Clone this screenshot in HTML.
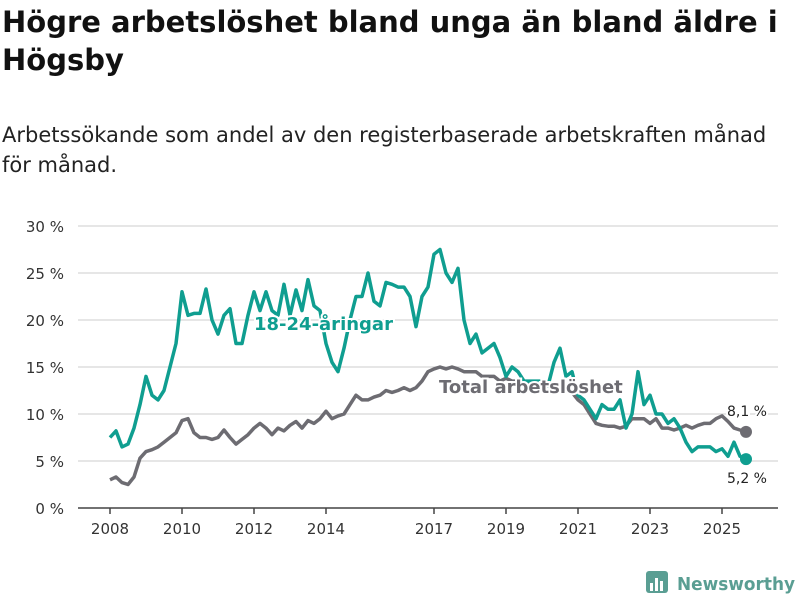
<!DOCTYPE html>
<html><head><meta charset="utf-8"><style>
body{margin:0;width:800px;height:600px;background:#fff;font-family:"DejaVu Sans","Liberation Sans",sans-serif;color:#111;overflow:hidden;position:relative}
h1{position:absolute;left:2px;top:3px;margin:0;font-size:29px;line-height:38px;font-weight:bold;width:798px}
.sub{position:absolute;left:2px;top:120px;font-size:21px;line-height:30px;color:#222;width:796px}
svg{position:absolute;left:0;top:0}
</style></head><body>
<h1>Högre arbetslöshet bland unga än bland äldre i Högsby</h1>
<div class="sub">Arbetssökande som andel av den registerbaserade arbetskraften månad för månad.</div>
<svg id="c" width="800" height="600"></svg>
<script>
const startYear=2008, step=1/6;
const youth=[7.5,8.2,6.5,6.8,8.5,11, 14,12,11.5,12.5,15,17.5, 23,20.5,20.7,20.7,23.3,20, 18.5,20.5,21.2,17.5,17.5,20.5, 23,21,23,21,20.5,23.8, 20.5,23.2,21,24.3,21.5,21, 17.5,15.5,14.5,17,20,22.5, 22.5,25,22,21.5,24,23.8, 23.5,23.5,22.5,19.3,22.5,23.5, 27,27.5,25,24,25.5,20, 17.5,18.5,16.5,17,17.5,16, 14,15,14.5,13.5,13.5,13.5, 13.5,13,15.5,17,14,14.5, 12,11.5,10.5,9.5,11,10.5, 10.5,11.5,8.5,10,14.5,11, 12,10,10,9,9.5,8.5, 7,6,6.5,6.5,6.5,6, 6.3,5.5,7,5.5,5.2];
const total=[3,3.3,2.7,2.5,3.3,5.3, 6,6.2,6.5,7,7.5,8, 9.3,9.5,8,7.5,7.5,7.3, 7.5,8.3,7.5,6.8,7.3,7.8, 8.5,9,8.5,7.8,8.5,8.2, 8.8,9.2,8.5,9.3,9,9.5, 10.3,9.5,9.8,10,11,12, 11.5,11.5,11.8,12,12.5,12.3, 12.5,12.8,12.5,12.8,13.5,14.5, 14.8,15,14.8,15,14.8,14.5, 14.5,14.5,14,14,14,13.5, 13.8,13.5,13.5,13.5,13,13, 13,13,12.8,12.5,12.5,12.3, 11.5,11,10,9,8.8,8.7, 8.7,8.5,8.7,9.5,9.5,9.5, 9,9.5,8.5,8.5,8.3,8.5, 8.8,8.5,8.8,9,9,9.5, 9.8,9.2,8.5,8.3,8.1];
const yTicks=[0,5,10,15,20,25,30];
const xTicks=[2008,2010,2012,2014,2017,2019,2021,2023,2025];
const X=t=>110+(t-2008)*36, Y=v=>508-v*9.4;
const ns="http://www.w3.org/2000/svg", svg=document.getElementById('c');
function mk(tag,attrs,parent){const e=document.createElementNS(ns,tag);for(const k in attrs)e.setAttribute(k,attrs[k]);(parent||svg).appendChild(e);return e;}
yTicks.forEach(v=>{
 if(v>0){const l=mk('line',{x1:78,x2:778,y1:Y(v),y2:Y(v),stroke:'#ddd','stroke-width':1.5});
 
 }
 const t=mk('text',{x:64,y:Y(v)+6,'text-anchor':'end','font-size':15,fill:'#333'});t.textContent=v+' %';
 
 
});
const ax=mk('line',{x1:78,x2:778,y1:508,y2:508,stroke:'#444','stroke-width':1.5});


xTicks.forEach(y=>{
 mk('line',{x1:X(y),x2:X(y),y1:508,y2:514,stroke:'#444','stroke-width':1.5});
 const t=mk('text',{x:X(y),y:534,'text-anchor':'middle','font-size':15,fill:'#333'});t.textContent=y;
 
 
});
function series(arr,col,name){
 const d=arr.map((v,i)=>(i?'L':'M')+X(startYear+i*step).toFixed(1)+','+Y(v).toFixed(1)).join('');
 const p=mk('path',{d:d,fill:'none',stroke:col,'stroke-width':3.5,'stroke-linejoin':'round'});
 
 
 const n=arr.length-1;
 const c=mk('circle',{cx:X(startYear+n*step),cy:Y(arr[n]),r:6,fill:col});
 
 
}
series(total,'#6d6c72','total');
series(youth,'#0f9e90','youth');
function lbl(x,y,txt,col,size,w,name,anchor){
 const t=mk('text',{x:x,y:y,fill:col,'font-size':size,'font-weight':w,'text-anchor':anchor||'start',stroke:'#fff','stroke-width':4,'paint-order':'stroke'});
 t.textContent=txt;
 
 
}
lbl(254,330,'18-24-åringar','#0f9e90',18,'bold','youth-series-label');
lbl(439,393,'Total arbetslöshet','#6d6c72',18,'bold','total-series-label');
lbl(767,416,'8,1 %','#222',14,'normal','total-end-value','end');
lbl(767,483,'5,2 %','#222',14,'normal','youth-end-value','end');
const g=mk('g',{});


mk('rect',{x:646,y:571,width:22,height:22,rx:3,fill:'#5a9e93'},g);
[[650,583,3,8],[655,578,3,13],[660,581,3,10]].forEach(r=>mk('rect',{x:r[0],y:r[1],width:r[2],height:r[3],fill:'#fff'},g));
const lt=mk('text',{x:677,y:590,'font-size':18,'font-weight':'bold',fill:'#5a9e93',textLength:118,lengthAdjust:'spacingAndGlyphs'},g);lt.textContent='Newsworthy';
</script>
</body></html>
